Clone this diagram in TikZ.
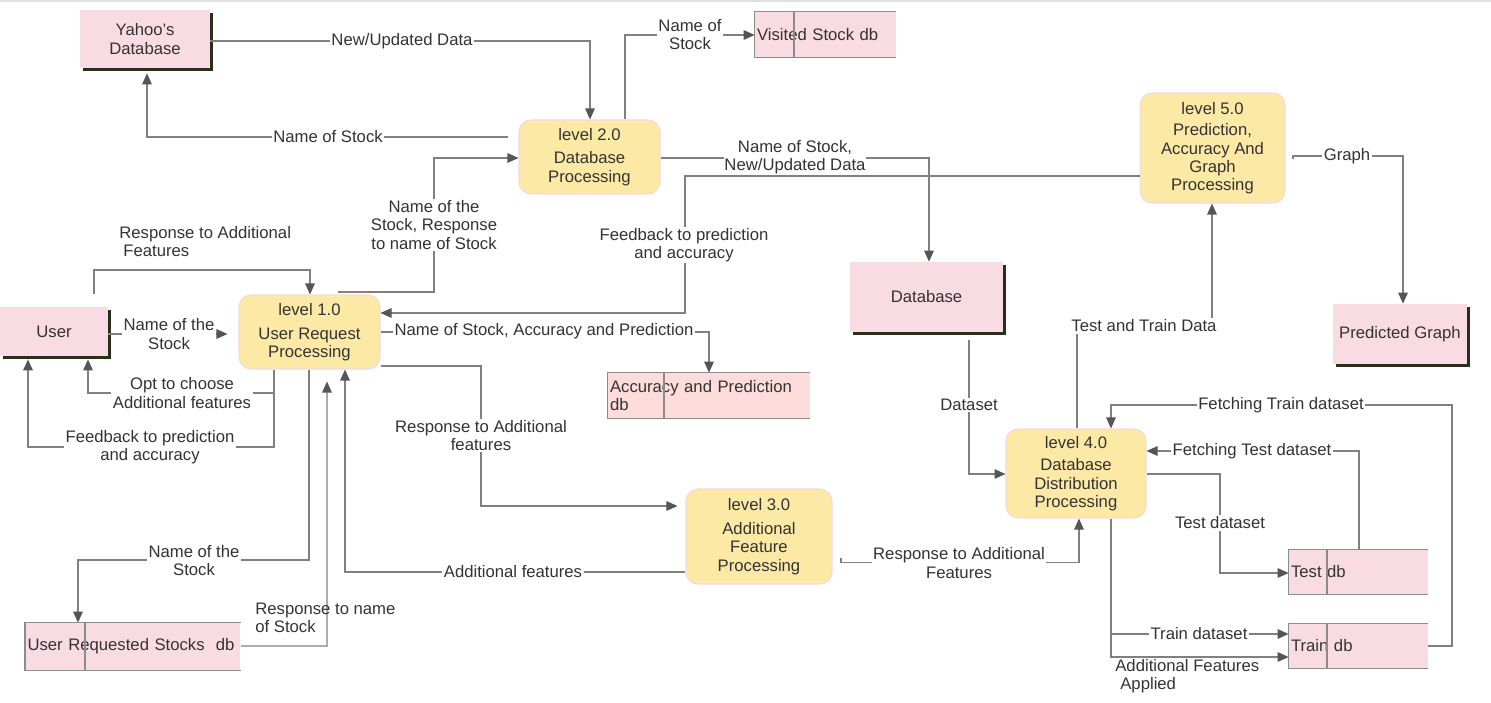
\documentclass[tikz,border=0pt]{standalone}
\usepackage{fontspec}
\setmainfont{Liberation Sans}
\usetikzlibrary{arrows.meta,shadows,calc}
\definecolor{pinkc}{HTML}{F9DBE4}
\definecolor{yellowc}{HTML}{FDE9A6}
\definecolor{salmonc}{HTML}{FDDCDB}
\definecolor{shadowc}{HTML}{28301A}
\definecolor{linec}{HTML}{808080}
\definecolor{arrowc}{HTML}{555555}
\definecolor{textc}{HTML}{333333}
\definecolor{procborder}{HTML}{F7D6DE}
\definecolor{storelinec}{HTML}{8C8C8C}
\begin{document}
\begin{tikzpicture}[x=0.02cm,y=-0.02cm,
 every node/.style={font=\fontsize{9.5}{10.3}\selectfont, text=textc},
 ext/.style={fill=pinkc, draw=none, align=center, general shadow={fill=shadowc, shadow xshift=0.06cm, shadow yshift=-0.06cm}},
 proc/.style={fill=yellowc, draw=procborder, line width=0.6pt, rounded corners=0.24cm, align=center},
 store/.style={fill=pinkc, draw=none, align=left, inner xsep=0.04cm, inner ysep=0pt},
 sline/.style={draw=storelinec, line width=0.8pt},
 flow/.style={draw=linec, line width=0.7pt, -{Triangle[length=0.22cm,width=0.19cm,color=arrowc]}},
 lbl/.style={fill=white, inner sep=0.8pt, align=center},
 lblfree/.style={inner sep=0pt, align=left},
]
\useasboundingbox (0,0) rectangle (1491,703);
\fill[black!12] (0,0) rectangle (1491,2.5);

% ---------- nodes ----------
\node[ext, minimum width=2.6cm, minimum height=1.16cm] (yahoo) at (145,39) {Yahoo's\\Database};
\node[store, minimum width=2.82cm, minimum height=0.9cm, text width=2.74cm] (visited) at (825.5,34.5) {Visited Stock db};
\node[proc, minimum width=2.82cm, minimum height=1.48cm] (l2) at (589.5,157) {level 2.0\\[3pt]Database\\Processing};
\node[proc, minimum width=2.9cm, minimum height=2.2cm] (l5) at (1212.5,148) {level 5.0\\[2pt]Prediction,\\Accuracy And\\Graph\\Processing};
\node[ext, minimum width=3.06cm, minimum height=1.4cm] (dbase) at (926.5,297) {Database};
\node[ext, minimum width=2.56cm, minimum height=1.2cm] (pgraph) at (1400,334) {Predicted Graph};
\node[ext, minimum width=2.16cm, minimum height=0.98cm] (user) at (54,331.5) {User};
\node[proc, minimum width=2.82cm, minimum height=1.48cm] (l1) at (309.5,332) {level 1.0\\[3.5pt]User Request\\Processing};
\node[store, fill=salmonc, minimum width=4.04cm, minimum height=0.9cm, text width=3.96cm] (accdb) at (709,395.5) {Accuracy and Prediction\\db};
\node[proc, minimum width=2.8cm, minimum height=1.78cm] (l4) at (1076,473.5) {level 4.0\\[2.5pt]Database\\Distribution\\Processing};
\node[proc, minimum width=2.92cm, minimum height=1.9cm] (l3) at (759,536.5) {level 3.0\\[3.5pt]Additional\\Feature\\Processing};
\node[store, minimum width=2.78cm, minimum height=0.88cm, text width=2.7cm] (testdb) at (1358.5,572) {Test db};
\node[store, minimum width=2.78cm, minimum height=0.88cm, text width=2.7cm] (traindb) at (1358.5,646) {Train db};
\node[store, minimum width=4.3cm, minimum height=0.94cm, text width=4.22cm] (urdb) at (133,646.5) {User Requested Stocks~~db};

% data store outlines
\foreach \s/\d in {visited/794, accdb/664, testdb/1327, traindb/1327, urdb/85}{
  \draw[sline] (\s.north east) -- (\s.north west) -- (\s.south west) -- (\s.south east);
  \draw[sline] (\s.north -| \d,0) -- (\s.south -| \d,0);
}

% ---------- connectors ----------
% 1
\draw[flow] (yahoo.east |- 0,41) -- (590,41) -- (l2.north -| 590,0);
% 2
\coordinate (s2) at (508,137);
\coordinate (e2) at ($(yahoo.south)+(2,5)$);
\draw[flow] (s2) -- (147,137) -- (e2);
% 3
\draw[flow] (l2.north -| 625,0) -- (625,35) -- (visited.west |- 0,35);
% 4
\coordinate (s4) at (338,292);
\draw[flow] (s4) -- (434,292) -- (434,158) -- (l2.west |- 0,158);
% 5
\draw[flow] (l2.east |- 0,158) -- (929,158) -- (dbase.north -| 929,0);
\node[lbl, inner sep=0.3pt] (t5) at (795,157) {Name of Stock,\\New/Updated Data};
% 6
\draw[flow] (l5.west |- 0,176) -- (685,176) -- (685,313) -- (l1.east |- 0,313);
% 7
\coordinate (s7) at (1293,159);
\draw[flow] (s7) -- (1293,156) -- (1403,156) -- (pgraph.north -| 1403,0);
% 8
\draw[flow] (l4.north -| 1077,0) -- (1077,326) -- (1212,326) -- (l5.south -| 1212,0);
% 9
\coordinate (s9) at (969,340);
\draw[flow] (s9) -- (969,474) -- (l4.west |- 0,474);
% 10
\coordinate (e10) at ($(l1.west)+(-11,2)$);
\draw[flow] (user.east |- 0,334) -- (e10);
% 11
\coordinate (s11) at (94,294);
\draw[flow] (s11) -- (94,270) -- (310,270) -- (l1.north -| 310,0);
% 12
\coordinate (e12) at ($(user.south)+(34,3)$);
\draw[flow] (l1.south -| 274,0) -- (274,393) -- (88,393) -- (e12);
% 13
\coordinate (j13) at (274,393);
\coordinate (e13) at ($(user.south)+(-26,3)$);
\draw[flow] (j13) -- (274,447) -- (28,447) -- (e13);
% 14
\draw[flow] (l1.south -| 309,0) -- (309,560) -- (78,560) -- (urdb.north -| 78,0);
% 15
\coordinate (e15) at ($(l1.south)+(17.5,12)$);
\draw[flow] (urdb.east |- 0,646) -- (327,646) -- (e15);
% 16
\draw[flow] (l3.west |- 0,572) -- (345,572) -- (l1.south -| 345,0);
% 17
\coordinate (e17) at ($(l3.west)+(-8,-30.5)$);
\draw[flow] (l1.east |- 0,366) -- (481,366) -- (481,506) -- (e17);
% 18
\draw[flow] (l1.east |- 0,332) -- (709,332) -- (accdb.north -| 709,0);
% 19
\coordinate (s19) at (841,558);
\draw[flow] (s19) -- (841,562.5) -- (1079,562.5) -- (l4.south -| 1079,0);
% 20
\draw[flow] (l4.east |- 0,474) -- (1220,474) -- (1220,573) -- (testdb.west |- 0,573);
% 21
\draw[flow] (testdb.north -| 1359,0) -- (1359,451) -- (l4.east |- 0,451);
% 22
\draw[flow] (traindb.east |- 0,646) -- (1452,646) -- (1452,405) -- (1111,405) -- (l4.north -| 1111,0);
% 23
\draw[flow] (l4.south -| 1111,0) -- (1111,634) -- (traindb.west |- 0,634);
% 24
\coordinate (j24) at (1111,634);
\draw[flow] (j24) -- (1111,657) -- (traindb.west |- 0,657);

% ---------- labels ----------
\node[lbl] (t1) at (402,41) {New/Updated Data};
\node[lbl] (t2) at (328,137) {Name of Stock};
\node[lbl] (t3) at (690,34.5) {Name of\\Stock};
\node[lbl] (t4) at (434,225) {Name of the\\Stock, Response\\to name of Stock};
\node[lbl] (t6) at (684,245) {Feedback to prediction\\and accuracy};
\node[lbl] (t7) at (1347,156) {Graph};
\node[lbl] (t8) at (1144,326) {Test and Train Data};
\node[lbl] (t9) at (969,405) {Dataset};
\node[lbl] (t10) at (169,334) {Name of the\\Stock};
\node[lblfree, anchor=west] (t11) at (119,241.5) {Response to Additional\\\hspace*{0.08cm}Features};
\node[lbl] (t12) at (182,393) {Opt to choose\\Additional features};
\node[lbl] (t13) at (150,447) {Feedback to prediction\\and accuracy};
\node[lbl] (t14) at (194,560.5) {Name of the\\Stock};
\node[lblfree, anchor=west] (t15) at (255,618) {Response to name\\of Stock};
\node[lbl] (t16) at (513,572) {Additional features};
\node[lbl] (t17) at (481,435.5) {Response to Additional\\features};
\node[lbl] (t18) at (544,331) {Name of Stock, Accuracy and Prediction};
\node[lbl] (t19) at (959,563) {Response to Additional\\Features};
\node[lbl] (t20) at (1220,523) {Test dataset};
\node[lbl] (t21) at (1252,451) {Fetching Test dataset};
\node[lbl] (t22) at (1281,405) {Fetching Train dataset};
\node[lbl] (t23) at (1199,634) {Train dataset};
\node[lblfree, anchor=west] (t24) at (1115,676) {Additional Features\\\hspace*{0.1cm}Applied};
\end{tikzpicture}
\end{document}
